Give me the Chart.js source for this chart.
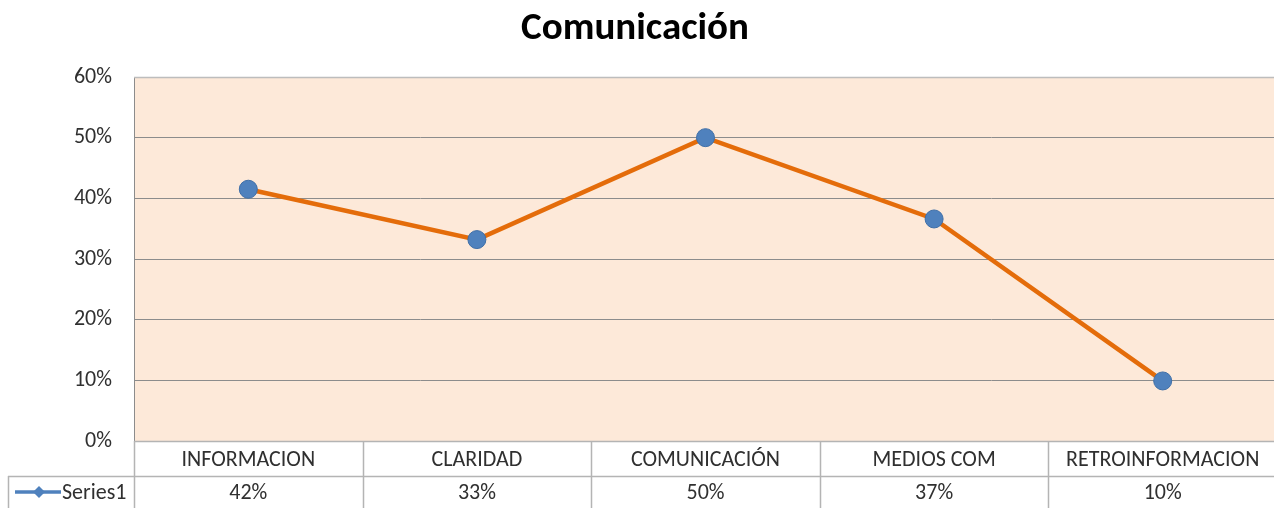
<!DOCTYPE html>
<html>
<head>
<meta charset="utf-8">
<script src="https://cdn.jsdelivr.net/npm/chart.js@4"></script>
<style>
html,body{margin:0;padding:0;background:#fff;overflow:hidden;}
canvas{display:block;}
</style>
</head>
<body>
<canvas id="c" width="1278" height="508" style="width:1278px;height:508px;"></canvas>
<script>
const chartTitle = "Comunicación";
const categories = ["INFORMACION", "CLARIDAD", "COMUNICACIÓN", "MEDIOS COM", "RETROINFORMACION"];
const seriesName = "Series1";
const seriesValues = [0.415, 0.332, 0.50, 0.366, 0.099];
const tableLabels = ["42%", "33%", "50%", "37%", "10%"];
const yTicks = [0, 0.1, 0.2, 0.3, 0.4, 0.5, 0.6];

const FONT = "Carlito, Calibri, Lato, 'Open Sans', sans-serif";
const TEXT = '#303030';
const gridColor = "#8c8c8c";
const tableColor = "#b4b4b4";

const bgPlugin = {
  id: 'plotBg',
  beforeDraw(chart) {
    const {ctx, chartArea: a} = chart;
    ctx.save();
    ctx.fillStyle = '#FDE9D9';
    ctx.fillRect(a.left, a.top, a.right - a.left, a.bottom - a.top);
    ctx.restore();
  },
  afterDraw(chart) {
    const {ctx, chartArea: a} = chart;
    const x = chart.scales.x;
    const n = categories.length;
    const w = (a.right - a.left) / n;
    const row1 = a.bottom, row2 = 476, bottom = 508;
    ctx.save();
    // title
    ctx.fillStyle = '#000';
    ctx.font = "bold 39px " + FONT;
    ctx.textAlign = 'center';
    ctx.textBaseline = 'alphabetic';
    ctx.fillText(chartTitle, 635, 39);
    // top plot border
    ctx.strokeStyle = '#bdbdbd';
    ctx.lineWidth = 1.5;
    ctx.beginPath(); ctx.moveTo(a.left, a.top + 0.5); ctx.lineTo(a.right, a.top + 0.5); ctx.stroke();
    // table lines
    ctx.strokeStyle = tableColor;
    ctx.lineWidth = 1.5;
    ctx.beginPath();
    ctx.moveTo(a.left, row1 + 0.5); ctx.lineTo(a.right, row1 + 0.5);
    ctx.moveTo(8, row2 + 0.5); ctx.lineTo(a.right, row2 + 0.5);
    ctx.moveTo(8.5, row2); ctx.lineTo(8.5, bottom);
    for (let i = 0; i <= n; i++) {
      const xx = Math.round(a.left + i * w) + 0.5;
      ctx.moveTo(xx, row1); ctx.lineTo(xx, bottom);
    }
    ctx.stroke();
    // text
    ctx.fillStyle = TEXT;
    ctx.font = "22px " + FONT;
    ctx.textBaseline = 'alphabetic';
    ctx.textAlign = 'center';
    categories.forEach((c, i) => {
      const cx = x.getPixelForValue(i);
      ctx.fillText(c, cx, 466);
      ctx.fillText(tableLabels[i], cx, 499);
    });
    // legend key
    const ly = 492;
    ctx.strokeStyle = '#4F81BD';
    ctx.lineWidth = 3.5;
    ctx.beginPath(); ctx.moveTo(15, ly); ctx.lineTo(61, ly); ctx.stroke();
    ctx.fillStyle = '#4F81BD';
    ctx.beginPath();
    ctx.moveTo(39, ly - 6); ctx.lineTo(45, ly); ctx.lineTo(39, ly + 6); ctx.lineTo(33, ly); ctx.closePath();
    ctx.fill();
    ctx.fillStyle = TEXT;
    ctx.textAlign = 'left';
    ctx.fillText(seriesName, 62, 499);
    ctx.restore();
  }
};

new Chart(document.getElementById('c'), {
  type: 'line',
  data: {
    labels: categories,
    datasets: [{
      label: seriesName,
      data: seriesValues,
      borderColor: '#E46C0A',
      borderWidth: 4.5,
      pointRadius: 9,
      pointHoverRadius: 9,
      pointBackgroundColor: '#4F81BD',
      pointBorderColor: '#3F6FA8',
      pointBorderWidth: 1,
      tension: 0,
      clip: false
    }]
  },
  options: {
    responsive: false,
    devicePixelRatio: 1,
    animation: false,
    events: [],
    layout: { autoPadding: false, padding: { top: 77, bottom: 67, left: 0, right: 1 } },
    plugins: { legend: { display: false }, title: { display: false }, tooltip: { enabled: false } },
    scales: {
      x: {
        type: 'category',
        display: false,
        offset: true,
        grid: { display: false }
      },
      y: {
        min: 0, max: 0.6,
        afterFit(scale) { scale.width = 134; },
        afterBuildTicks(scale) { scale.ticks = yTicks.map(v => ({ value: v })); },
        ticks: {
          padding: 22,
          color: TEXT,
          font: { family: FONT, size: 22 },
          callback: v => Math.round(v * 100) + '%'
        },
        grid: { color: gridColor, lineWidth: 1, drawTicks: false },
        border: { display: true, color: '#8c8c8c', width: 1 }
      }
    }
  },
  plugins: [bgPlugin]
});
</script>
</body>
</html>
